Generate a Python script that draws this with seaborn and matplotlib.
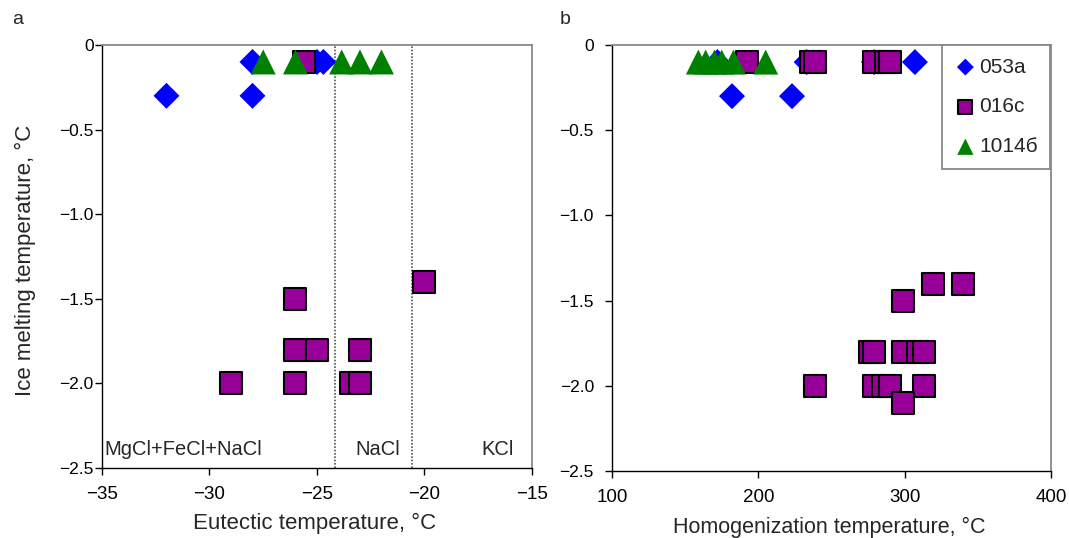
import pandas as pd
import numpy as np
import matplotlib
matplotlib.use('Agg')
import matplotlib.pyplot as plt
import seaborn as sns

# panel a: eutectic temperature vs ice melting temperature
eut_053a_x = [-32, -28, -28, -25, -24.7]
eut_053a_y = [-0.3, -0.3, -0.1, -0.1, -0.1]
eut_016c_x = [-25.6, -26, -26, -25, -23, -29, -26, -23.4, -23, -20]
eut_016c_y = [-0.1, -1.5, -1.8, -1.8, -1.8, -2.0, -2.0, -2.0, -2.0, -1.4]
eut_1014_x = [-27.5, -26, -23.85, -23, -22]
eut_1014_y = [-0.1, -0.1, -0.1, -0.1, -0.1]

# panel b: homogenization temperature vs ice melting temperature
hom_053a_x = [182, 223, 233, 279, 307, 172]
hom_053a_y = [-0.3, -0.3, -0.1, -0.1, -0.1, -0.1]
hom_016c_x = [192, 236, 239, 279, 287, 290, 299, 319, 340, 276, 279, 299, 309, 313,
              239, 279, 285, 290, 313, 299]
hom_016c_y = [-0.1, -0.1, -0.1, -0.1, -0.1, -0.1, -1.5, -1.4, -1.4, -1.8, -1.8, -1.8, -1.8, -1.8,
              -2.0, -2.0, -2.0, -2.0, -2.0, -2.1]
hom_1014_x = [159, 164, 170, 175, 183, 205]
hom_1014_y = [-0.1, -0.1, -0.1, -0.1, -0.1, -0.1]

samples = ['053а', '016с', '1014б']
colors = {'053а': '#0000ff', '016с': '#990099', '1014б': '#008000'}
markers = {'053а': 'D', '016с': 's', '1014б': '^'}
sizes = {'053а': 175, '016с': 250, '1014б': 324}
edges = {'053а': 'none', '016с': 'black', '1014б': 'none'}

boundaries = [-24.16, -20.57]
zone_labels = ['MgCl+FeCl+NaCl', 'NaCl', 'KCl']
zone_x = [-34.9, -22.16, -16.6]
zone_ha = ['left', 'center', 'center']

sns.set_style('ticks')
plt.rcParams['font.family'] = ['Liberation Sans', 'DejaVu Sans']

fig = plt.figure(figsize=(10.69, 5.38), dpi=100)
ax1 = fig.add_axes([0.0954, 0.1301, 0.4022, 0.7862])
ax2 = fig.add_axes([0.5725, 0.1245, 0.4107, 0.7918])

panel_a = {'053а': (eut_053a_x, eut_053a_y), '016с': (eut_016c_x, eut_016c_y),
           '1014б': (eut_1014_x, eut_1014_y)}
panel_b = {'053а': (hom_053a_x, hom_053a_y), '016с': (hom_016c_x, hom_016c_y),
           '1014б': (hom_1014_x, hom_1014_y)}

for ax, panel in [(ax1, panel_a), (ax2, panel_b)]:
    for s in samples:
        xs, ys = panel[s]
        df = pd.DataFrame({'x': xs, 'y': ys})
        sns.scatterplot(data=df, x='x', y='y', ax=ax, marker=markers[s], s=sizes[s],
                        color=colors[s], edgecolor=edges[s],
                        linewidth=1.5 if s == '016с' else 0, label=s, legend=False,
                        clip_on=False, zorder=3)


def minus(v, fmt):
    if v == 0:
        return '0'
    return format(v, fmt).replace('-', '\u2212')


for ax in [ax1, ax2]:
    ax.set_ylim(-2.5, 0)
    ax.set_yticks([0, -0.5, -1.0, -1.5, -2.0, -2.5])
    ax.set_yticklabels([minus(v, '.1f') for v in [0, -0.5, -1.0, -1.5, -2.0, -2.5]])
    for side in ['left', 'bottom']:
        ax.spines[side].set_color('black')
        ax.spines[side].set_linewidth(1.0)
    for side in ['top', 'right']:
        ax.spines[side].set_color('#888888')
        ax.spines[side].set_linewidth(1.3)
    ax.tick_params(axis='both', direction='out', length=5, width=1, color='black',
                   labelsize=12.5, labelcolor='black')
    ax.tick_params(axis='x', pad=8, labelsize=13.5)

ax1.tick_params(axis='y', pad=1)
ax2.tick_params(axis='y', pad=8)

ax1.set_xlim(-35, -15)
ax1.set_xticks([-35, -30, -25, -20, -15])
ax1.set_xticklabels([minus(v, 'd') for v in [-35, -30, -25, -20, -15]])
ax2.set_xlim(100, 400)
ax2.set_xticks([100, 200, 300, 400])

for b in boundaries:
    ax1.axvline(b, color='#555555', linestyle=(0, (1, 1)), linewidth=1.2, zorder=1)
for lab, xz, ha in zip(zone_labels, zone_x, zone_ha):
    ax1.text(xz, -2.39, lab, ha=ha, va='center', fontsize=14.5)

ax1.set_xlabel('Eutectic temperature, °C', fontsize=16)
ax1.xaxis.set_label_coords(0.495, -0.105)
ax1.set_ylabel('Ice melting temperature, °C', fontsize=16)
ax1.yaxis.set_label_coords(-0.153, 0.49)
ax2.set_xlabel('Homogenization temperature, °C', fontsize=15.5)
ax2.xaxis.set_label_coords(0.494, -0.107)
ax2.set_ylabel('')

leg = ax2.legend(loc='upper right', bbox_to_anchor=(0.9977, 1.0), borderaxespad=0,
                 fontsize=15, frameon=True, fancybox=False, framealpha=1,
                 edgecolor='#888888', markerscale=0.65, handletextpad=0.15,
                 handlelength=1.0, labelspacing=1.0, borderpad=0.6)
leg.get_frame().set_linewidth(1.3)

fig.text(18 / 1069, 1 - 20 / 538, 'a', fontsize=14, ha='center', va='center')
fig.text(565 / 1069, 1 - 20 / 538, 'b', fontsize=14, ha='center', va='center')

fig.savefig('out.png', dpi=100)
